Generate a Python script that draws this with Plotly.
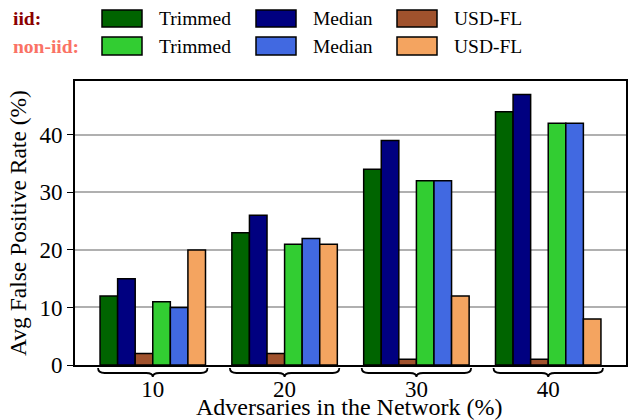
import plotly.graph_objects as go

# Adversary share in the network (%) and false-positive rates per method
adversaries = ["10", "20", "30", "40"]
trimmed_iid = [12, 23, 34, 44]
median_iid = [15, 26, 39, 47]
usdfl_iid = [2, 2, 1, 1]
trimmed_noniid = [11, 21, 32, 42]
median_noniid = [10, 22, 32, 42]
usdfl_noniid = [20, 21, 12, 8]

series = [
    ("Trimmed", "iid", trimmed_iid, "#006400"),
    ("Median", "iid", median_iid, "#000080"),
    ("USD-FL", "iid", usdfl_iid, "#A0522D"),
    ("Trimmed", "non-iid", trimmed_noniid, "#32CD32"),
    ("Median", "non-iid", median_noniid, "#4169E1"),
    ("USD-FL", "non-iid", usdfl_noniid, "#F4A460"),
]

W, H = 632, 420
L, R, T, B = 75, 6, 81, 55
pw, ph = W - L - R, H - T - B
FONT = "Liberation Serif, Times New Roman, serif"

xpos = list(range(len(adversaries)))
fig = go.Figure()
for name, dist, vals, color in series:
    fig.add_trace(go.Bar(
        x=xpos, y=vals, name=f"{name} ({dist})",
        marker=dict(color=color, line=dict(color="black", width=1.5)),
        showlegend=False,
    ))

ymax = max(max(s[2]) for s in series) * 1.05


def px_x(p):
    return (p - L) / pw


def px_y(p):
    return (H - B - p) / ph


shapes = []
# curly braces under each group
bar_span = 0.8
for i in xpos:
    xl = i - bar_span / 2 - 0.015
    xr = i + bar_span / 2 + 0.015
    xc = i
    dx = 0.05
    y_top = px_y(H - B + 3)
    y_mid = px_y(H - B + 8)
    y_tip = px_y(H - B + 12)
    path = (f"M {xl},{y_top} Q {xl},{y_mid} {xl + dx},{y_mid} "
            f"L {xc - dx},{y_mid} Q {xc},{y_mid} {xc},{y_tip} "
            f"Q {xc},{y_mid} {xc + dx},{y_mid} "
            f"L {xr - dx},{y_mid} Q {xr},{y_mid} {xr},{y_top}")
    shapes.append(dict(type="path", path=path, xref="x", yref="paper",
                       line=dict(color="black", width=1.8)))

annotations = []
# two-row legend: iid on top, non-iid below
col_sw = [102, 256, 397]
row_y = [(10, 27), (37, 55)]
for k, (name, dist, vals, color) in enumerate(series):
    r, c = divmod(k, 3)
    x0 = col_sw[c]
    y0, y1 = row_y[r]
    shapes.append(dict(type="rect", xref="paper", yref="paper",
                       x0=px_x(x0), x1=px_x(x0 + 40), y0=px_y(y1), y1=px_y(y0),
                       fillcolor=color, line=dict(color="black", width=1.5)))
    annotations.append(dict(text=name, xref="paper", yref="paper",
                            x=px_x(x0 + 55), y=px_y((y0 + y1) / 2),
                            xanchor="left", yanchor="middle", showarrow=False,
                            font=dict(family=FONT, size=19.5, color="black")))

for r, (label, color) in enumerate([("iid:", "#8B0000"), ("non-iid:", "#FA7265")]):
    y0, y1 = row_y[r]
    annotations.append(dict(text=f"<b>{label}</b>", xref="paper", yref="paper",
                            x=px_x(11), y=px_y((y0 + y1) / 2),
                            xanchor="left", yanchor="middle", showarrow=False,
                            font=dict(family=FONT, size=19.5, color=color)))

# x-axis title placed just under the tick labels
annotations.append(dict(text="Adversaries in the Network (%)", xref="paper", yref="paper",
                        x=px_x(349), y=px_y(407), xanchor="center",
                        yanchor="middle", showarrow=False,
                        font=dict(family=FONT, size=24, color="black")))

fig.update_layout(
    width=W, height=H,
    margin=dict(l=L, r=R, t=T, b=B, pad=0),
    barmode="group", bargap=0.2, bargroupgap=0,
    plot_bgcolor="white", paper_bgcolor="white",
    font=dict(family=FONT, size=23, color="black"),
    shapes=shapes, annotations=annotations,
    xaxis=dict(
        range=[-0.59, len(adversaries) - 1 + 0.59],
        tickvals=xpos, ticktext=adversaries,
        ticks="", showgrid=False, zeroline=False, automargin=False,
        showline=True, mirror=True, linecolor="black", linewidth=1.6,
        ticklabelstandoff=3,
        tickfont=dict(family=FONT, size=23),
    ),
    yaxis=dict(
        range=[0, ymax], tickvals=[0, 10, 20, 30, 40],
        ticks="outside", ticklen=6, tickwidth=1.2, tickcolor="black",
        showgrid=True, gridcolor="#b0b0b0", gridwidth=1.5, zeroline=False,
        automargin=False,
        showline=True, mirror=True, linecolor="black", linewidth=1.6,
        tickfont=dict(family=FONT, size=23),
        title=dict(text="Avg False Positive Rate (%)", standoff=6,
                   font=dict(family=FONT, size=23.5)),
    ),
)

fig.write_html("out.html")
